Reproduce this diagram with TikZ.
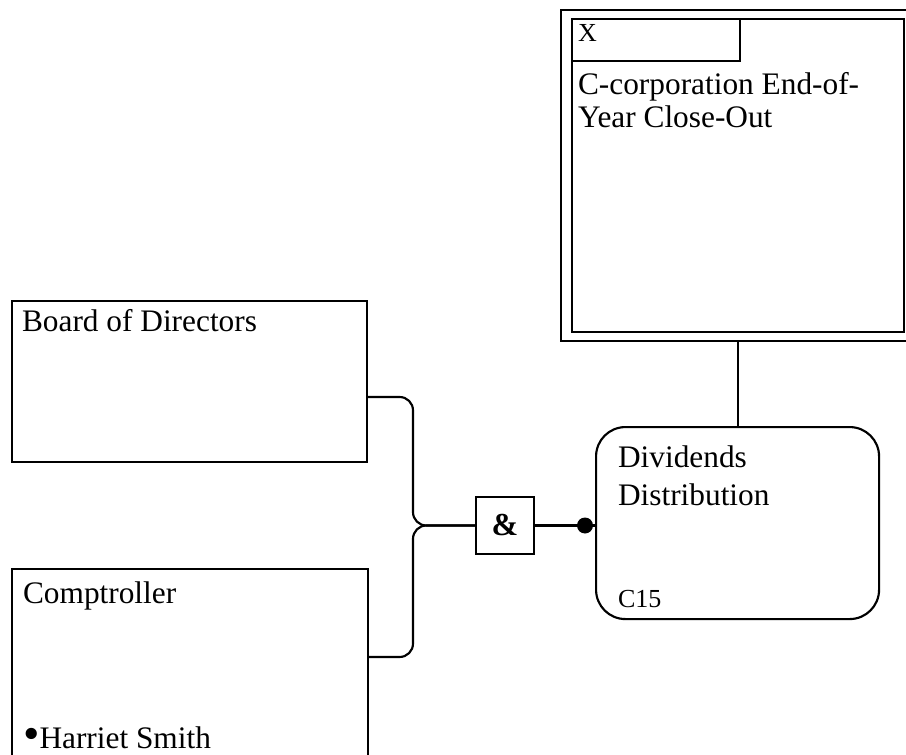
\documentclass[tikz,border=0pt]{standalone}
\usepackage{fontspec}
\usepackage{graphicx}
\setmainfont{Liberation Serif}
\newdimen\px \px=.75pt

\begin{document}
\begin{tikzpicture}[x=.75pt, y=-.75pt, line width=1.6pt,
    box/.style={draw, rectangle, inner sep=0, anchor=north west},
    lbl/.style={anchor=base west, inner sep=0, font=\fontsize{23.5}{28}\selectfont}]
      \useasboundingbox (0,0) rectangle (906,755);
      \clip (0,0) rectangle (906,755);
      % boxes
      \node[box, minimum width=355\px, minimum height=161\px] (board) at (11,300) {};
      \node[box, minimum width=356\px, minimum height=220\px] (comp) at (11,568) {};
      \node[box, minimum width=352\px, minimum height=331\px] (ctop) at (560,9) {};
      \node[box, minimum width=332\px, minimum height=313\px] (ctopin) at (571,18) {};
      \node[box, minimum width=168\px, minimum height=42\px] (xbox) at (571,18) {};
      \node[box, rounded corners=22pt, minimum width=283\px, minimum height=192\px] (div) at (595,426) {};
      \node[draw, inner sep=0, minimum width=58\px, minimum height=57\px,
        font=\bfseries\fontsize{24}{24}\selectfont] (and) at (505,525.5) {\&};
      \coordinate (junc) at (413,525.5);
      % connectors
      \draw[rounded corners=10pt] ([yshift=-97\px]board.north east) -| (junc) -- (and.west);
      \draw[rounded corners=10pt] ([yshift=-89\px]comp.north east) -| (junc) -- (and.west);
      \draw (and.east) -- (and.east -| div.west);
      \fill ([xshift=-10\px]and.east -| div.west) circle (8\px);
      \draw (div.north |- ctop.south) -- (div.north);
      % texts
      \node[lbl] (boardtxt) at (21,332) {Board of Directors};
      \node[lbl] (comptxt) at (22,603) {Comptroller};
      \node[lbl] (harriet) at (22,748) {\raisebox{-1pt}{\scalebox{1.5}{\textbullet}}Harriet Smith};
      \node[lbl, font=\fontsize{19.5}{22}\selectfont] (xtxt) at (577,42) {X};
      \node[lbl] (ctoptxta) at (577,95) {C-corporation End-of-};
      \node[lbl] (ctoptxtb) at (577,128) {Year Close-Out};
      \node[lbl] (divtxta) at (617,467) {Dividends};
      \node[lbl] (divtxtb) at (617,505) {Distribution};
      \node[lbl, font=\fontsize{19.5}{22}\selectfont] (divid) at (617,607) {C15};
\end{tikzpicture}
\end{document}
